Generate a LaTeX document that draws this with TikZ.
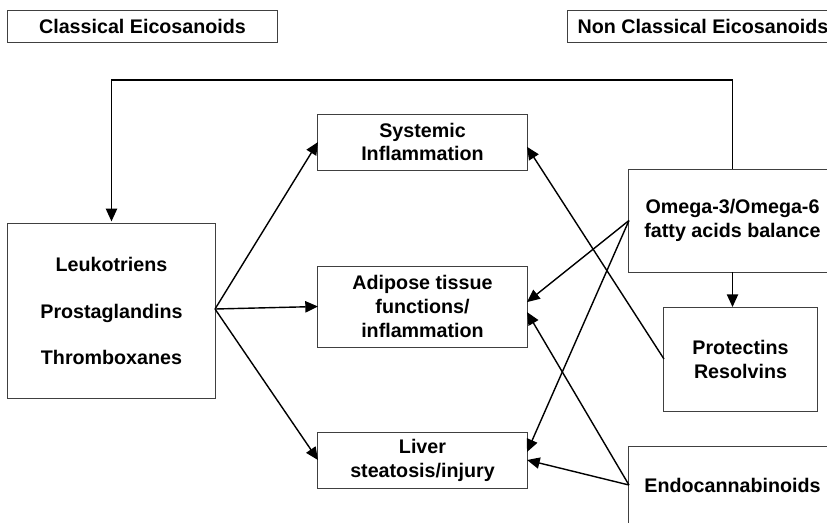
\documentclass[tikz,border=0pt]{standalone}
\usepackage{fontspec}
\setmainfont{Liberation Sans}
\usetikzlibrary{arrows.meta}

\tikzset{
  box/.style={draw=black!75, line width=0.7pt, inner sep=0pt, outer sep=0pt,
    align=center, font=\fontsize{14}{17}\selectfont\bfseries},
  link/.style={line width=1pt, -{Triangle[length=9pt,width=8pt]}}
}

\begin{document}
\begin{tikzpicture}[x=0.025cm, y=-0.025cm]
          \clip (0,0) rectangle (827,522);
          \fill[white] (0,0) rectangle (827,522);

          % headings
          \node[box, minimum width=6.725cm, minimum height=0.8cm] (clsHead) at (142.5,26) {Classical Eicosanoids};
          \node[box, minimum width=6.75cm, minimum height=0.8cm] (nonHead) at (703,26) {Non Classical Eicosanoids};

          % left column
          \node[box, minimum width=5.175cm, minimum height=4.375cm,
                font=\fontsize{14}{33}\selectfont\bfseries] (eico) at (111.5,311)
                {Leukotriens\\Prostaglandins\\Thromboxanes};

          % middle column
          \node[box, minimum width=5.225cm, minimum height=1.4cm] (sys) at (422.5,142) {Systemic\\Inflammation};
          \node[box, minimum width=5.225cm, minimum height=2.025cm] (adip) at (422.5,306.5) {Adipose tissue\\functions/\\inflammation};
          \node[box, minimum width=5.225cm, minimum height=1.4cm] (liver) at (422.5,460) {Liver\\steatosis/injury};

          % right column
          \node[box, minimum width=5.175cm, minimum height=2.575cm] (omega) at (732.5,220.5) {Omega-3/Omega-6\\fatty acids balance};
          \node[box, minimum width=3.825cm, minimum height=2.6cm] (prot) at (740.5,359) {Protectins\\Resolvins};
          \node[box, minimum width=5.175cm, minimum height=1.95cm] (endo) at (732.5,485) {Endocannabinoids};

          \coordinate (loopTop) at (111.5,80);

          \draw[link] (omega.north) |- (loopTop) -- ([yshift=1.5pt]eico.north);
          \draw[link] (omega.south) -- (omega.south |- prot.north);

          \foreach \target in {sys,adip,liver}{
            \draw[link] ([yshift=0.05cm]eico.east) -- (\target.west);
          }

          \draw[link] (prot.west) -- ([yshift=-0.12cm]sys.east);
          \draw[link] (omega.west) -- ([yshift=0.11cm]adip.east);
          \draw[link] (omega.west) -- ([yshift=0.2cm]liver.east);
          \draw[link] (endo.west) -- ([yshift=-0.14cm]adip.east);
          \draw[link] (endo.west) -- (liver.east);
        \end{tikzpicture}
\end{document}
